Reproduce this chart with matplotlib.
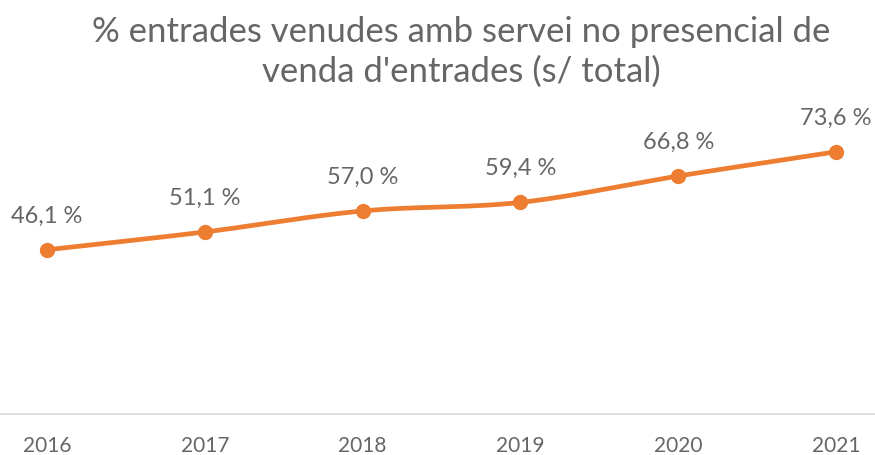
import matplotlib.pyplot as plt
import numpy as np

plt.rcParams['font.family'] = ['Lato', 'DejaVu Sans']

# data
years = [2016, 2017, 2018, 2019, 2020, 2021]
pct = [46.1, 51.1, 57.0, 59.4, 66.8, 73.6]
labels = ['46,1 %', '51,1 %', '57,0 %', '59,4 %', '66,8 %', '73,6 %']
title = "% entrades venudes amb servei no presencial de\nvenda d'entrades (s/ total)"

orange = '#ED7D31'
grey = '#666666'


def smooth(xs, ys, n=40):
    # Catmull-Rom curve through the points, like Excel's smoothed line
    xs = np.asarray(xs, float)
    ys = np.asarray(ys, float)
    px = np.concatenate([[2 * xs[0] - xs[1]], xs, [2 * xs[-1] - xs[-2]]])
    py = np.concatenate([[2 * ys[0] - ys[1]], ys, [2 * ys[-1] - ys[-2]]])
    outx, outy = [], []
    t = np.linspace(0, 1, n)
    for i in range(1, len(px) - 2):
        for p, out in ((px, outx), (py, outy)):
            p0, p1, p2, p3 = p[i - 1], p[i], p[i + 1], p[i + 2]
            out.extend(0.5 * (2 * p1 + (-p0 + p2) * t
                              + (2 * p0 - 5 * p1 + 4 * p2 - p3) * t ** 2
                              + (-p0 + 3 * p1 - 3 * p2 + p3) * t ** 3))
    return outx, outy


fig = plt.figure(figsize=(8.75, 4.56), dpi=100)
ax = fig.add_axes([0, 41 / 456, 1, 285 / 456])

sx, sy = smooth(years, pct)
ax.plot(sx, sy, color=orange, lw=3.4, solid_capstyle='round', zorder=2)
ax.plot(years, pct, 'o', color=orange, ms=10, zorder=3)

for x, y, s in zip(years, pct, labels):
    ax.annotate(s, (x, y), xytext=(0, 25), textcoords='offset points',
                ha='center', va='center', fontsize=17, color=grey)

step = (836 - 47) / 5
ax.set_xlim(2016 - 47 / step, 2021 + 39 / step)
ax.set_ylim(0, 80)
ax.set_xticks(years)
ax.set_xticklabels([str(y) for y in years], fontsize=15, color=grey)
ax.tick_params(axis='x', length=0, pad=15)
ax.set_yticks([])
for side in ['top', 'left', 'right']:
    ax.spines[side].set_visible(False)
ax.spines['bottom'].set_color('#D9D9D9')
ax.spines['bottom'].set_linewidth(1.2)

fig.text(0.527, 1 - 52 / 456, title, ha='center', va='center',
         fontsize=25, color=grey, linespacing=1.3)

fig.savefig('out.png', dpi=100)
